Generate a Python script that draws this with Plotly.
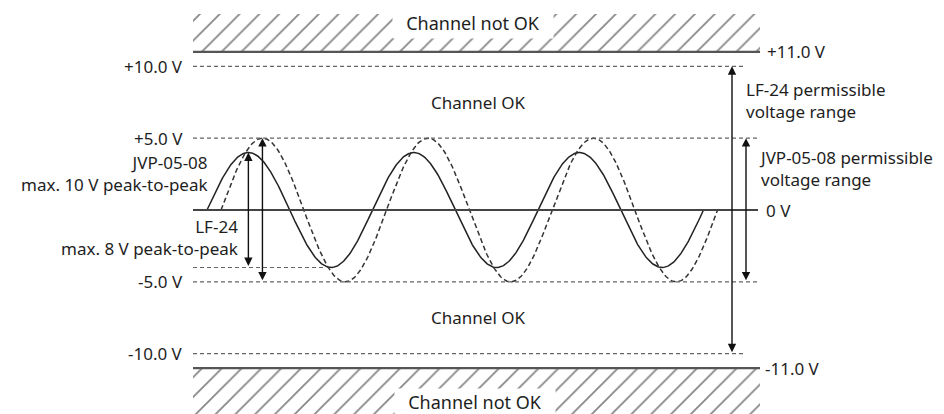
import numpy as np
import plotly.graph_objects as go

# ---------------- data ----------------
outer_limits = [11.0, -11.0]          # "Channel not OK" boundaries (V)
lf24_limits = [10.0, -10.0]           # LF-24 permissible voltage range (V)
jvp_limits = [5.0, -5.0]              # JVP-05-08 permissible voltage range (V)
lf24_amplitude = 4.0                  # LF-24 max. 8 V peak-to-peak
jvp_amplitude = 5.0                   # JVP-05-08 max. 10 V peak-to-peak
n_cycles = 3
jvp_phase_lag = 0.085                 # dashed signal lag (periods)
left_tick_labels = ["+10.0 V", "+5.0 V", "-5.0 V", "-10.0 V"]
left_tick_values = [10.0, 5.0, -5.0, -10.0]
right_tick_labels = ["+11.0 V", "0 V", "-11.0 V"]
right_tick_values = [11.0, 0.0, -11.0]

# ---------------- layout helpers (diagram geometry, page pixels) ----------------
PAGE_W, PAGE_H = 944, 414
BODY = 8                                # default page margin around the figure
W, H = PAGE_W - BODY, PAGE_H - BODY
X0, PERIOD = 207.0, 165.5               # page px of t=0 and px per period
Y0, SLOPE = 210.0, 14.37                # page px of 0 V and px per volt


def X(px):
    return (px - X0) / PERIOD


def Y(py):
    return (Y0 - py) / SLOPE


FONT = "Noto Sans"
TXT = "#1e1e1e"
fig = go.Figure()

# hatched "Channel not OK" bands
for y_in, y_out in [(outer_limits[0], Y(14)), (outer_limits[1], Y(430))]:
    fig.add_trace(go.Scatter(
        x=[X(193), X(760), X(760), X(193), X(193)],
        y=[y_in, y_in, y_out, y_out, y_in],
        mode="lines", fill="toself", line=dict(width=0),
        fillcolor="white",
        fillpattern=dict(shape="/", size=14, solidity=0.13,
                         fgcolor="#111111", bgcolor="white"),
        hoverinfo="skip", showlegend=False))

shapes = []
# boundary lines +/-11 V
for v in outer_limits:
    shapes.append(dict(type="line", xref="x", yref="y", x0=X(193), x1=X(760),
                       y0=v, y1=v, line=dict(color="#555555", width=2.2)))
# dashed limit lines
for v in lf24_limits:
    shapes.append(dict(type="line", xref="x", yref="y", x0=X(193), x1=X(744),
                       y0=v, y1=v, line=dict(color="#666666", width=1.2, dash="4px,3px")))
for v in jvp_limits:
    shapes.append(dict(type="line", xref="x", yref="y", x0=X(193), x1=X(760),
                       y0=v, y1=v, line=dict(color="#666666", width=1.2, dash="4px,3px")))
# short dashed line at LF-24 negative peak
shapes.append(dict(type="line", xref="x", yref="y", x0=X(193), x1=X(323),
                   y0=-lf24_amplitude, y1=-lf24_amplitude,
                   line=dict(color="#666666", width=1.2, dash="4px,3px")))
# 0 V line
shapes.append(dict(type="line", xref="x", yref="y", x0=X(193), x1=X(758),
                   y0=0, y1=0, line=dict(color="#444444", width=2)))

# signals
t = np.linspace(0, n_cycles, 600)
fig.add_trace(go.Scatter(x=t, y=lf24_amplitude * np.sin(2 * np.pi * t), mode="lines",
                         line=dict(color="#222222", width=1.5),
                         hoverinfo="skip", showlegend=False))
fig.add_trace(go.Scatter(x=t + jvp_phase_lag, y=jvp_amplitude * np.sin(2 * np.pi * t),
                         mode="lines",
                         line=dict(color="#333333", width=1.5, dash="5px,3px"),
                         hoverinfo="skip", showlegend=False))

ann = []


def arrow(x, y_top, y_bot):
    ann.append(dict(x=x, y=y_top, ax=x, ay=y_bot, xref="x", yref="y",
                    axref="x", ayref="y", text="", showarrow=True,
                    arrowhead=2, arrowside="end+start", arrowsize=1.2,
                    arrowwidth=1.4, arrowcolor="#111111",
                    standoff=0, startstandoff=0))


# peak-to-peak arrows at first peaks
arrow(0.25, lf24_amplitude, -lf24_amplitude)
arrow(0.25 + jvp_phase_lag, jvp_amplitude, -jvp_amplitude)
# permissible range arrows
arrow(X(732), lf24_limits[0], lf24_limits[1])
arrow(X(746), jvp_limits[0], jvp_limits[1])


def text(s, x, y, xanchor="left", size=17, **kw):
    d = dict(x=x, y=y, xref="x", yref="y", text=s, showarrow=False,
             xanchor=xanchor, yanchor="middle", align=xanchor,
             font=dict(family=FONT, size=size, color=TXT))
    d.update(kw)
    ann.append(d)


for s, v in zip(left_tick_labels, left_tick_values):
    text(s, X(185), v, "right")
right_x = [X(765), X(764), X(763)]
for s, v, xx in zip(right_tick_labels, right_tick_values, right_x):
    text(s, xx, v, "left")

# channel state labels
text("Channel OK", X(478), (lf24_limits[0] + jvp_limits[0]) / 2, "center")
text("Channel OK", X(478), (lf24_limits[1] + jvp_limits[1]) / 2, "center")
text("Channel not OK", X(473), Y(23), "center", size=18, bgcolor="white",
     width=160, height=30, borderpad=0)
text("Channel not OK", X(475), Y(402), "center", size=18, bgcolor="white",
     width=160, height=26, borderpad=0)

# signal descriptions
text("JVP-05-08<br>max. 10 V peak-to-peak", X(210), Y(173), "right")
text("LF-24<br>max. 8 V peak-to-peak", X(240), Y(237), "right")
text("LF-24 permissible<br>voltage range", X(744), Y(100), "left")
text("JVP-05-08 permissible<br>voltage range", X(757), Y(168), "left")

fig.update_layout(
    width=W, height=H, margin=dict(l=0, r=0, t=0, b=0),
    paper_bgcolor="white", plot_bgcolor="white",
    xaxis=dict(range=[X(BODY), X(PAGE_W)], visible=False, fixedrange=True),
    yaxis=dict(range=[Y(PAGE_H), Y(BODY)], visible=False, fixedrange=True),
    shapes=shapes, annotations=ann, showlegend=False,
)
fig.write_html("out.html")
